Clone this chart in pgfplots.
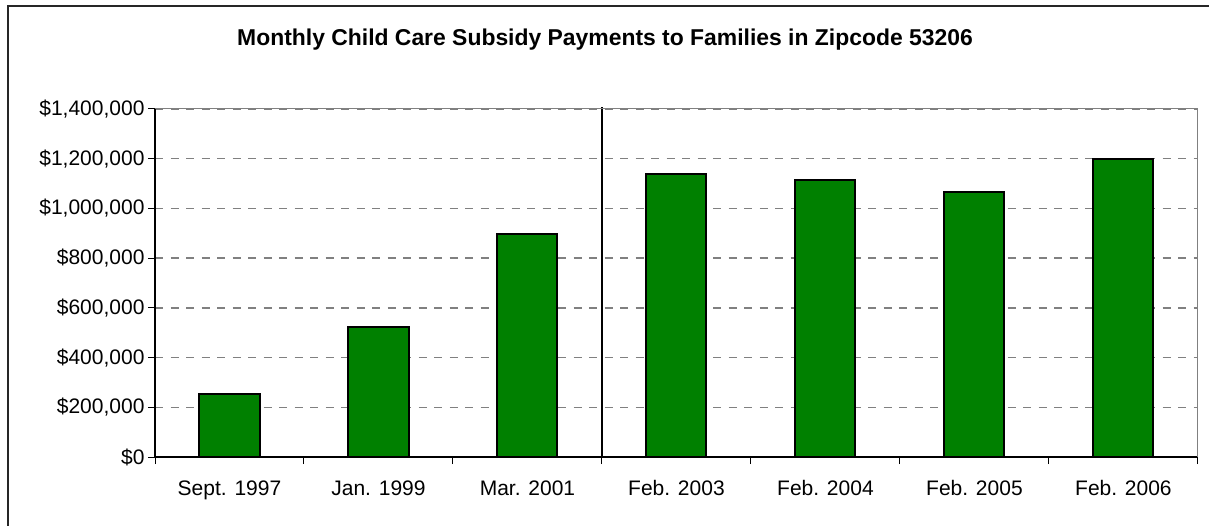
\documentclass[border=0pt]{standalone}
\usepackage{pgfplots}
\pgfplotsset{compat=1.18}
\usepackage{fontspec}
\setmainfont{Liberation Sans}
\definecolor{barg}{RGB}{0,128,0}
\definecolor{gridg}{RGB}{128,128,128}
\begin{document}
\begin{tikzpicture}[x=1pt,y=1pt]
\useasboundingbox (0,0) rectangle (1209,525);
\draw[line width=2pt, black!85] (8,-5) -- (8,519) -- (1215,519);
\node[anchor=base, font=\fontsize{22.9}{27}\selectfont\bfseries] at (605,479) {Monthly Child Care Subsidy Payments to Families in Zipcode 53206};
\begin{axis}[
  at={(155pt,68pt)}, anchor=south west,
  width=1043pt, height=348pt, scale only axis,
  xmin=-0.5, xmax=6.5, ymin=0, ymax=1400000,
  axis x line*=bottom, axis y line*=left,
  axis line style={black, line width=1.2pt},
  clip=false,
  tick align=outside,
  tick style={black, line width=1pt},
  major tick length=7pt, minor tick length=7pt,
  xtick={0,...,6},
  major x tick style={draw=none},
  minor xtick={-0.5,0.5,...,6.5},
  xticklabels={Sept. 1997, Jan. 1999, Mar. 2001, Feb. 2003, Feb. 2004, Feb. 2005, Feb. 2006},
  ytick={0,200000,...,1400000},
  yticklabels={{\$0},{\$200,000},{\$400,000},{\$600,000},{\$800,000},{\$1,000,000},{\$1,200,000},{\$1,400,000}},
  ticklabel style={font=\fontsize{21}{25}\selectfont},
  xticklabel style={anchor=base, yshift=-31pt},
  ymajorgrids,
  major grid style={gridg, line width=1.3pt, dash pattern=on 8pt off 7.5pt},
  scaled y ticks=false,
  after end axis/.code={\draw[gridg, line width=1pt] (rel axis cs:0,1) -- (rel axis cs:1,1) -- (rel axis cs:1,0);},
]
\addplot[ybar, bar width=0.403, fill=barg, draw=black, line width=2pt] coordinates {
  (0,254000) (1,523000) (2,897000) (3,1139000) (4,1115000) (5,1066000) (6,1198000)
};
\addplot[black, line width=1.5pt, forget plot] coordinates {(2.5,0) (2.5,1408000)};
\end{axis}
\end{tikzpicture}
\end{document}
